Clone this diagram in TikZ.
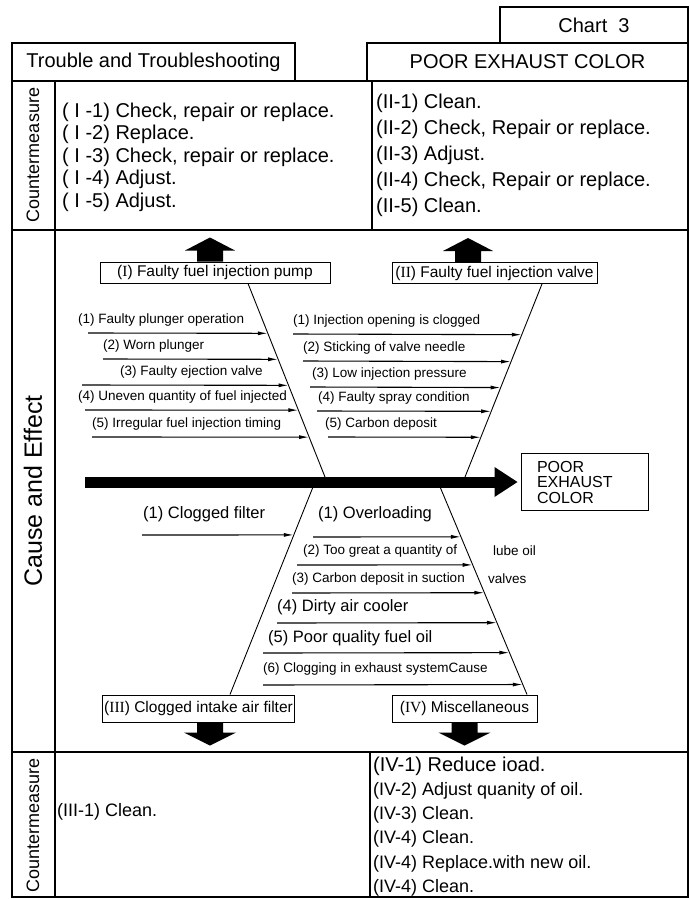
\documentclass[tikz,border=0pt]{standalone}
\usepackage{fontspec}
\setmainfont{Liberation Sans}
\newfontfamily\numfont{Liberation Serif}
\usetikzlibrary{arrows.meta, positioning, calc}

\tikzset{
  frame/.style={line width=1.3pt},
  headbox/.style={draw, line width=1.3pt, inner sep=0pt, font=\fontsize{20}{24}\selectfont},
  causebox/.style={draw, line width=1pt, inner sep=2pt, minimum height=21pt, font=\fontsize{15.5}{18}\selectfont},
  bone/.style={line width=0.9pt},
  spine/.style={line width=11pt, -{Triangle[length=23pt,width=30pt,line width=0pt]}, shorten >=3pt},
  sub/.style={line width=1.1pt, -{Latex[length=10pt,width=4pt]}},
  branch/.style={anchor=west, inner sep=0pt, font=\fontsize{13.5}{16}\selectfont},
  bigbranch/.style={branch, font=\fontsize{16.5}{18}\selectfont},
  measure/.style={anchor=north west, align=left, inner sep=0pt},
  sidelabel/.style={rotate=90, inner sep=0pt, font=\fontsize{18}{20}\selectfont},
  fatup/.pic={\fill (-13,0) -- (-13,-11) -- (-25,-11) -- (0,-24) -- (25,-11) -- (13,-11) -- (13,0) -- cycle;},
  fatdown/.pic={\fill (-13,0) -- (-13,10) -- (-26,10) -- (0,23) -- (26,10) -- (13,10) -- (13,0) -- cycle;}
}

\begin{document}
\begin{tikzpicture}[x=1pt, y=-1pt]
    \useasboundingbox (0,0) rectangle (690,899);

    % heading
    \node[headbox, minimum width=188pt, minimum height=36pt] (chart) at (594,25) {Chart\ \ 3};
    \node[headbox, minimum width=283pt, minimum height=38pt] (trouble) at (153.5,62) {Trouble and Troubleshooting};
    \node[headbox, minimum width=321pt, minimum height=38pt] (title) at (527.5,62) {POOR EXHAUST COLOR};

    % table
    \draw[frame] (12,81) rectangle (688,897);
    \draw[frame] (55,81) -- (55,897);
    \draw[frame] (12,230) -- (688,230);
    \draw[frame] (12,752) -- (688,752);
    \draw[frame] (372,81) -- (372,230);
    \draw[frame] (370,752) -- (370,897);

    \node[sidelabel] (cmtop) at (33,155) {Countermeasure};
    \node[sidelabel, font=\fontsize{25}{28}\selectfont] (ce) at (33,491) {Cause and Effect};
    \node[sidelabel] (cmbot) at (33,825) {Countermeasure};

    % countermeasures
    \node[measure, font=\fontsize{20}{22.5}\selectfont] (cmI) at (62,102.5) {( I -1) Check, repair or replace.\\( I -2) Replace.\\( I -3) Check, repair or replace.\\( I -4) Adjust.\\( I -5) Adjust.};
    \node[measure, font=\fontsize{20}{26}\selectfont] (cmII) at (376,93.5) {(II-1) Clean.\\(II-2) Check, Repair or replace.\\(II-3) Adjust.\\(II-4) Check, Repair or replace.\\(II-5) Clean.};
    \node[anchor=west, inner sep=0pt, font=\fontsize{18}{22}\selectfont] (cmIII) at (57,812) {(III-1) Clean.};
    \node[measure, font=\fontsize{18}{24.2}\selectfont] (cmIV) at (373,756.5) {{\fontsize{20}{24.2}\selectfont (IV-1) Reduce ioad.}\\(IV-2) Adjust quanity of oil.\\(IV-3) Clean.\\(IV-4) Clean.\\(IV-4) Replace.with new oil.\\(IV-4) Clean.};

    % cause boxes
    \node[causebox, minimum width=230pt] (pump) at (215,272.5) {({\numfont I}) Faulty fuel injection pump};
    \node[causebox, minimum width=205pt] (valve) at (494.5,273) {({\numfont II}) Faulty fuel injection valve};
    \node[causebox, minimum width=187pt, minimum height=27pt] (filter) at (198.5,708.5) {({\numfont III}) Clogged intake air filter};
    \node[causebox, minimum width=145pt, minimum height=27pt] (misc) at (464.5,708.5) {({\numfont IV}) Miscellaneous};
    \node[draw, line width=1pt, minimum width=127pt, minimum height=57pt, text width=95pt, inner xsep=16pt, align=left, font=\fontsize{16}{15.5}\selectfont] (effect) at (584.5,482) {POOR\\EXHAUST\\COLOR};

    \pic at ([xshift=-5pt]pump.north) {fatup};
    \pic at ([xshift=-26.5pt]valve.north) {fatup};
    \pic at ([xshift=11.5pt]filter.south) {fatdown};
    \pic at (misc.south) {fatdown};

    % bones and spine
    \coordinate (tI) at ([xshift=33pt]pump.south);
    \coordinate (tII) at ([xshift=47.5pt]valve.south);
    \coordinate (tIII) at ([xshift=31.5pt]filter.north);
    \coordinate (tIV) at ([xshift=62.5pt]misc.north);
    \coordinate (jI) at (327,482);
    \coordinate (jII) at (463,482);
    \coordinate (jIII) at (315,482);
    \coordinate (jIV) at (438,482);
    \coordinate (tail) at (85,482);
    \draw[bone] (tI) -- (jI);
    \draw[bone] (tII) -- (jII);
    \draw[bone] (jIII) -- (tIII);
    \draw[bone] (jIV) -- (tIV);
    \draw[spine] (tail) -- (effect.west);

    % (I) fuel injection pump
    \node[branch] (pump1) at (78,320) {(1) Faulty plunger operation};
    \node[branch] (pump2) at (103,346) {(2) Worn plunger};
    \node[branch] (pump3) at (120,372) {(3) Faulty ejection valve};
    \node[branch] (pump4) at (78,397) {(4) Uneven quantity of fuel injected};
    \node[branch] (pump5) at (92,424) {(5) Irregular fuel injection timing};
    \coordinate (p1) at (88,333);
    \coordinate (p2) at (103,359);
    \coordinate (p3) at (82,385);
    \coordinate (p4) at (85,410);
    \coordinate (p5) at (92,437);
    \draw[sub] (p1) -- ($(tI)!.251!(jI)$);
    \draw[sub] (p2) -- ($(tI)!.382!(jI)$);
    \draw[sub] (p3) -- ($(tI)!.513!(jI)$);
    \draw[sub] (p4) -- ($(tI)!.638!(jI)$);
    \draw[sub] (p5) -- ($(tI)!.774!(jI)$);

    % (II) fuel injection valve
    \node[branch] (valve1) at (293,321) {(1) Injection opening is clogged};
    \node[branch] (valve2) at (303,348) {(2) Sticking of valve needle};
    \node[branch] (valve3) at (312,374) {(3) Low injection pressure};
    \node[branch] (valve4) at (318,398) {(4) Faulty spray condition};
    \node[branch] (valve5) at (325,424) {(5) Carbon deposit};
    \coordinate (v1) at (293,334);
    \coordinate (v2) at (303,361);
    \coordinate (v3) at (310,387);
    \coordinate (v4) at (317,411);
    \coordinate (v5) at (328,437);
    \draw[sub] (v1) -- ($(tII)!.256!(jII)$);
    \draw[sub] (v2) -- ($(tII)!.392!(jII)$);
    \draw[sub] (v3) -- ($(tII)!.523!(jII)$);
    \draw[sub] (v4) -- ($(tII)!.643!(jII)$);
    \draw[sub] (v5) -- ($(tII)!.774!(jII)$);

    % (III) intake air filter
    \node[bigbranch] (filter1) at (143,514) {(1) Clogged filter};
    \coordinate (f1) at (142,535);
    \draw[sub] (f1) -- ($(jIII)!.249!(tIII)$);

    % (IV) miscellaneous
    \node[bigbranch] (misc1) at (318,514) {(1) Overloading};
    \node[branch] (misc2) at (303,551) {(2) Too great a quantity of};
    \node[branch] (misc2b) at (493,551) {lube oil};
    \node[branch] (misc3) at (292,579) {(3) Carbon deposit in suction};
    \node[branch] (misc3b) at (488,579) {valves};
    \node[bigbranch] (misc4) at (277,607) {(4) Dirty air cooler};
    \node[bigbranch] (misc5) at (268,638) {(5) Poor quality fuel oil};
    \node[branch] (misc6) at (263,669) {(6) Clogging in exhaust systemCause};
    \coordinate (m1) at (313,537);
    \coordinate (m2) at (297,565);
    \coordinate (m3) at (292,593);
    \coordinate (m4) at (277,623);
    \coordinate (m5) at (263,653);
    \coordinate (m6) at (263,685);
    \draw[sub] (m1) -- ($(jIV)!.258!(tIV)$);
    \draw[sub] (m2) -- ($(jIV)!.390!(tIV)$);
    \draw[sub] (m3) -- ($(jIV)!.521!(tIV)$);
    \draw[sub] (m4) -- ($(jIV)!.662!(tIV)$);
    \draw[sub] (m5) -- ($(jIV)!.803!(tIV)$);
    \draw[sub] (m6) -- ($(jIV)!.953!(tIV)$);
\end{tikzpicture}
\end{document}
